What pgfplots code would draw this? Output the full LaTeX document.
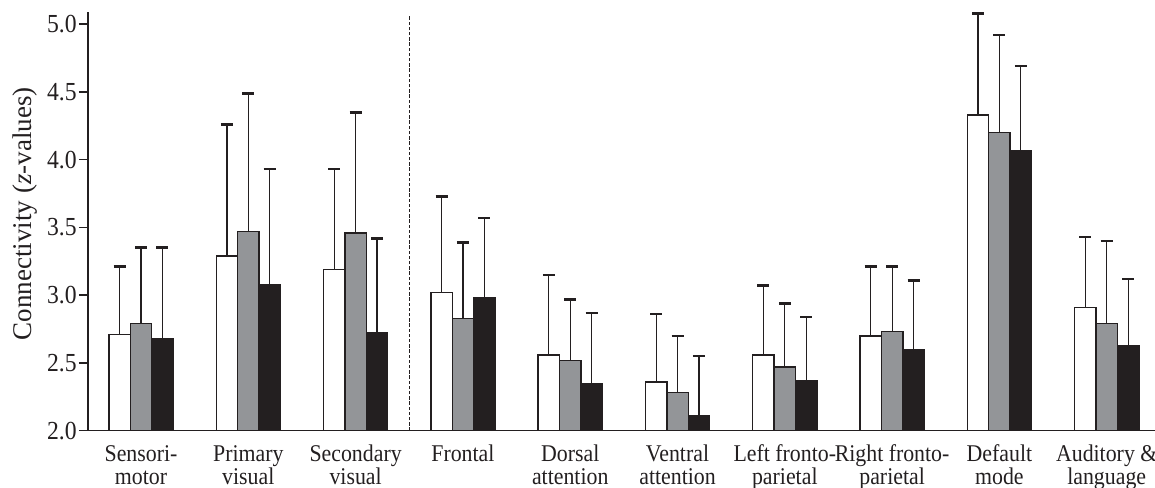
\documentclass[border=0pt]{standalone}
\usepackage{fontspec}
\setmainfont{Liberation Serif}
\newfontfamily\condfont[FakeStretch=0.91]{Liberation Serif}
\usepackage{pgfplots}
\usepackage{pgfplotstable}
\pgfplotsset{compat=1.18}
\definecolor{barblack}{HTML}{231F20}
\definecolor{bargrey}{HTML}{939598}
\pgfplotstableread{
x white whiteE grey greyE black blackE
0 2.71 0.50 2.79 0.56 2.68 0.67
1 3.29 0.97 3.47 1.02 3.08 0.85
2 3.19 0.74 3.46 0.89 2.72 0.70
3 3.02 0.71 2.83 0.56 2.98 0.59
4 2.56 0.59 2.52 0.45 2.35 0.52
5 2.36 0.50 2.28 0.42 2.11 0.44
6 2.56 0.51 2.47 0.47 2.37 0.47
7 2.70 0.51 2.73 0.48 2.60 0.51
8 4.33 0.75 4.20 0.72 4.07 0.62
9 2.91 0.52 2.79 0.61 2.63 0.49
}\datatable
\begin{document}
\begin{tikzpicture}
\begin{axis}[
  scale only axis,
  width=533.5pt, height=209.35pt,
  at={(0,0)}, anchor=south west,
  xmin=-0.494, xmax=9.45,
  ymin=2, ymax=5.09,
  axis x line*=bottom, axis y line*=left,
  axis line style={line width=0.75pt, draw=barblack},
  ytick={2,2.5,...,5},
  yticklabel style={/pgf/number format/fixed, /pgf/number format/fixed zerofill, /pgf/number format/precision=1, font=\condfont\fontsize{13}{14}\selectfont, inner sep=1pt, text=barblack},
  /pgf/number format/assume math mode=true,
  ytick align=outside,
  xtick align=inside,
  major tick length=4.5pt,
  ytick style={line width=0.75pt, draw=barblack},
  xtick={0,...,9},
  xtick style={draw=none},
  xticklabels={Sensori-\\motor, Primary\\visual, Secondary\\visual, Frontal\\\mbox{}, Dorsal\\attention, Ventral\\attention, Left fronto-\\parietal, Right fronto-\\parietal, Default\\mode, Auditory \&\\language},
  xticklabel style={align=center, font=\condfont\fontsize{12}{11.5}\selectfont, anchor=base, yshift=-22.15pt, text=barblack},
  every axis y label/.style={at={(axis description cs:0,0.5)}, xshift=-28pt, yshift=3.75pt, rotate=90, anchor=base},
  ylabel={\fontsize{13.5}{14}\selectfont\color{barblack}Connectivity (\textit{z}-values)},
  ybar=0pt,
  bar width=10.7pt,
  error bars/y dir=plus,
  error bars/y explicit,
  error bars/error bar style={line width=0.6pt, draw=barblack},
  error bars/error mark options={rotate=90, line width=1.3pt, mark size=3pt, draw=barblack},
]
\addplot[fill=white, draw=barblack, line width=0.7pt] table[x=x, y=white, y error=whiteE] {\datatable};
\addplot[fill=bargrey, draw=barblack, line width=0.7pt] table[x=x, y=grey, y error=greyE] {\datatable};
\addplot[fill=barblack, draw=barblack, line width=0.7pt] table[x=x, y=black, y error=blackE] {\datatable};
\addplot[sharp plot, forget plot, draw=barblack, line width=0.6pt, dash pattern=on 1.7pt off 0.9pt] coordinates {(2.5,2) (2.5,5.06)};
\end{axis}
\pgfresetboundingbox
\path[use as bounding box] (-44pt,-28.15pt) rectangle (533.5pt,215.35pt);
\end{tikzpicture}
\end{document}
